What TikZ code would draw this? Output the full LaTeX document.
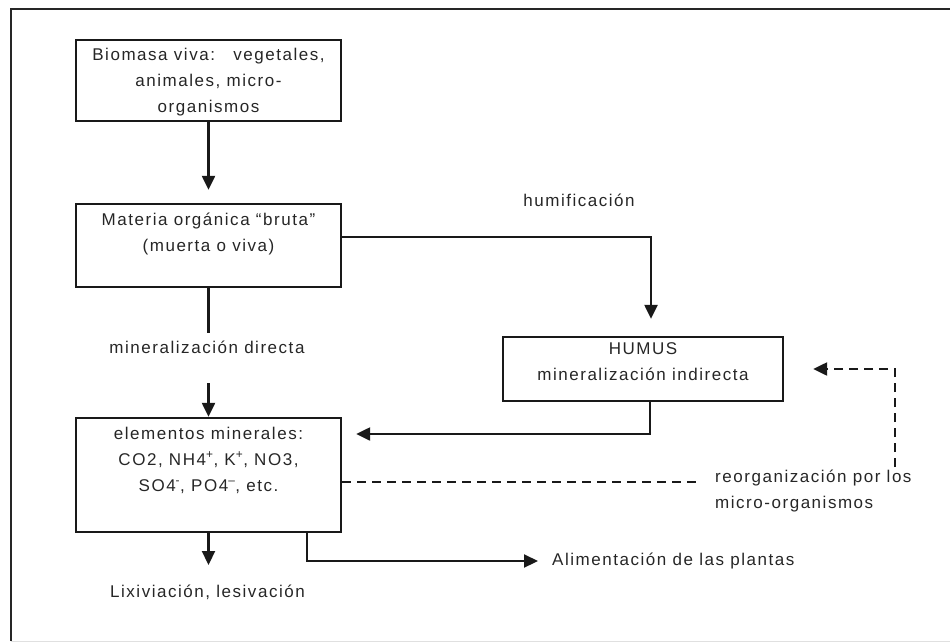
\documentclass[tikz,border=0pt]{standalone}
\usepackage{fontspec}
\setmainfont{Liberation Sans}[LetterSpace=9]
\usetikzlibrary{arrows.meta}

\tikzset{
  txt/.style={font=\fontsize{17pt}{26pt}\selectfont, text=black!85, inner sep=0pt},
  box/.style={draw=black!90, line width=2.3pt, inner sep=0pt},
  conn/.style={line width=2.2pt, draw=black!90},
  tip/.style={-{Triangle[width=13pt,length=14pt]}},
  arr/.style={conn, tip},
  dashline/.style={conn, dash pattern=on 9pt off 6pt},
}

\begin{document}
\begin{tikzpicture}[x=1pt,y=-1pt]
  \useasboundingbox (0,0) rectangle (950,643);

  % outer frame: top and left edges dark, bottom edge faint
  \draw[line width=2.8pt, black!85] (11,641) -- (11,9) -- (950,9);
  \draw[line width=1pt, black!12] (11,641) -- (950,641);

  % boxes
  \node[box, minimum width=265pt, minimum height=81pt]  (bio)       at (208.5,80.5)  {};
  \node[box, minimum width=265pt, minimum height=83pt]  (materia)   at (208.5,245.5) {};
  \node[box, minimum width=265pt, minimum height=114pt] (elementos) at (208.5,475)   {};
  \node[box, minimum width=280pt, minimum height=64pt]  (humus)     at (643,369)     {};

  % box texts
  \node[txt, align=center] (biotxt) at (208.5,82)
    {Biomasa viva:\hspace{10pt} vegetales,\\animales, micro-\\organismos};
  \node[txt, align=center] (materiatxt) at (208.5,233.5)
    {Materia orgánica “bruta”\\(muerta o viva)};
  \node[txt, align=center] (elementostxt) at (208.5,460)
    {elementos minerales:\\CO2, NH4\textsuperscript{+}, K\textsuperscript{+}, NO3,\\SO4\textsuperscript{-}, PO4\textsuperscript{--}, etc.};
  \node[txt, align=center] (humustxt) at (643,362)
    {HUMUS\\mineralización indirecta};

  % free labels
  \node[txt] (humif) at (579,200) {humificación};
  \node[txt] (mindir) at (207,347) {mineralización directa};
  \node[txt, align=left, anchor=west] (reorg) at (715,491)
    {reorganización por los\\micro-organismos};
  \node[txt] (lix) at (207.5,592) {Lixiviación, lesivación};
  \node[txt, anchor=west] (alim) at (552,561) {Alimentación de las plantas};

  % free ends of connectors
  \coordinate (mdtop)   at (208.5,333);
  \coordinate (mdbot)   at (208.5,383);
  \coordinate (dashend) at (697,482);
  \coordinate (loopbot) at (895,467);
  \coordinate (lixtip)  at (208.5,565);

  % connectors
  \draw[arr, shorten >=13pt] (bio.south) -- (materia.north);
  \draw[arr, shorten >=17pt] ([yshift=8.5pt]materia.east) -| ([xshift=8pt]humus.north);
  \draw[conn] (materia.south) -- (mdtop);
  \draw[arr] (mdbot) -- (elementos.north);
  \draw[arr, shorten >=14pt] ([xshift=7pt]humus.south) |- ([yshift=41pt]elementos.east);
  \draw[dashline] ([yshift=-7pt]elementos.east) -- (dashend);
  \draw[dashline, tip, shorten >=29pt] (loopbot) |- (humus.east);
  \draw[arr] (elementos.south) -- (lixtip);
  \draw[arr, shorten >=14pt] ([xshift=98.5pt]elementos.south) |- (alim.west);
\end{tikzpicture}
\end{document}
